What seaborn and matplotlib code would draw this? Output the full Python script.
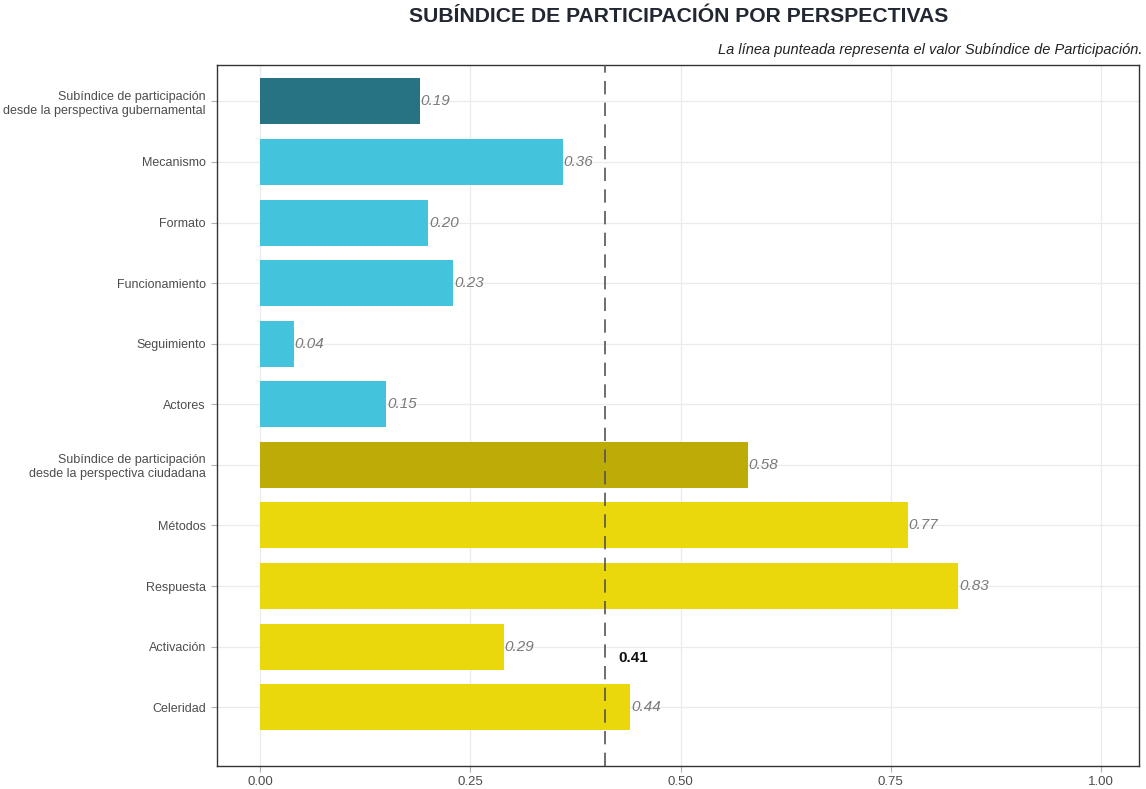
import matplotlib
matplotlib.use("Agg")
import matplotlib.pyplot as plt
import seaborn as sns
import pandas as pd

categorias = [
    "Subíndice de participación\ndesde la perspectiva gubernamental",
    "Mecanismo",
    "Formato",
    "Funcionamiento",
    "Seguimiento",
    "Actores",
    "Subíndice de participación\ndesde la perspectiva ciudadana",
    "Métodos",
    "Respuesta",
    "Activación",
    "Celeridad",
]
valores = [0.19, 0.36, 0.20, 0.23, 0.04, 0.15, 0.58, 0.77, 0.83, 0.29, 0.44]
grupos = ["gob_total", "gob", "gob", "gob", "gob", "gob",
          "ciu_total", "ciu", "ciu", "ciu", "ciu"]
colores = {"gob_total": "#287383", "gob": "#44c3dc",
           "ciu_total": "#bdac07", "ciu": "#ebd80c"}
subindice = 0.41

df = pd.DataFrame({"categoria": categorias, "valor": valores, "grupo": grupos})

sns.set_theme(style="white")
plt.rcParams["font.family"] = ["Liberation Sans", "DejaVu Sans"]

fig = plt.figure(figsize=(11.46, 7.89), dpi=100)
ax = fig.add_axes([217 / 1146, 1 - 766 / 789, (1139 - 217) / 1146, (766 - 65) / 789])

sns.barplot(data=df, y="categoria", x="valor", hue="grupo", palette=colores,
            order=categorias, orient="h", width=0.76, dodge=False,
            legend=False, saturation=1, linewidth=0, ax=ax, zorder=2)

for i, v in enumerate(valores):
    ax.text(v + 0.001, i, f"{v:.2f}", ha="left", va="center",
            fontsize=11, style="italic", color="#7a7a7a", zorder=4)

ax.axvline(subindice, color="#555555", linestyle=(0, (8, 5)), linewidth=1.2, zorder=3)
ax.text(subindice + 0.016, 9.18, f"{subindice:.2f}", ha="left", va="center",
        fontsize=11, fontweight="bold", color="#111111", zorder=4)

ax.set_xlim(-0.051, 1.045)
ax.set_ylim(10.97, -0.6)
ax.set_xticks([0, 0.25, 0.5, 0.75, 1.0])
ax.set_xticklabels(["0.00", "0.25", "0.50", "0.75", "1.00"])
ax.set_xlabel("")
ax.set_ylabel("")

ax.grid(True, color="#ebebeb", linewidth=0.9, zorder=0)
ax.set_axisbelow(True)
for s in ax.spines.values():
    s.set_visible(True)
    s.set_color("#333333")
    s.set_linewidth(1.0)

ax.tick_params(axis="both", which="major", length=4, width=0.8, color="#b0b0b0",
               labelsize=9.5, labelcolor="#4d4d4d", pad=3,
               bottom=True, left=True)
ax.tick_params(axis="y", labelsize=9, pad=4)
for lbl in ax.get_yticklabels():
    lbl.set_multialignment("right")

fig.text(679 / 1146, 1 - 17 / 789, "SUBÍNDICE DE PARTICIPACIÓN POR PERSPECTIVAS",
         ha="center", va="center", fontsize=15.2, fontweight="bold", color="#222831")
fig.text(1143 / 1146, 1 - 50 / 789,
         "La línea punteada representa el valor Subíndice de Participación.",
         ha="right", va="center", fontsize=10.5, style="italic", color="#222222")

fig.savefig("out.png", dpi=100)
